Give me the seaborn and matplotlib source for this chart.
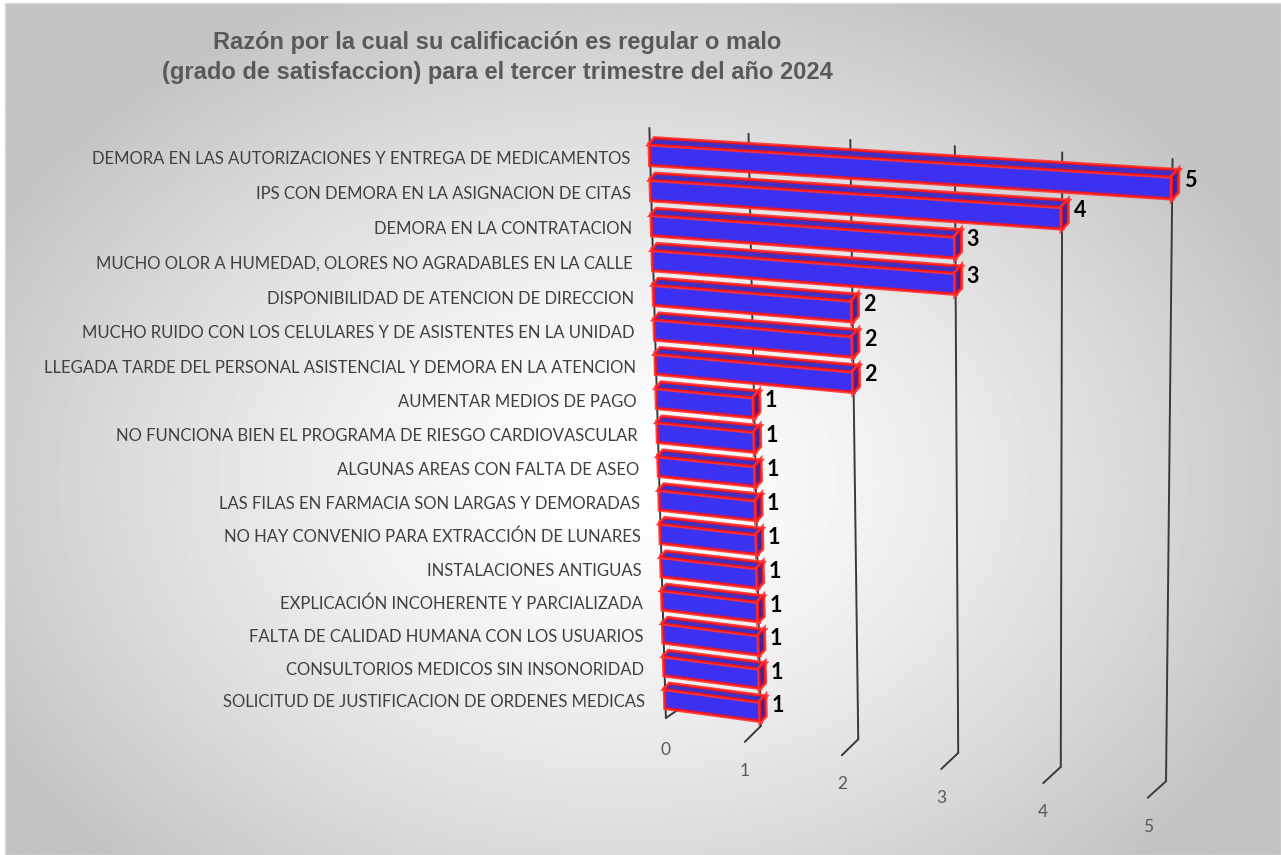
import numpy as np
import pandas as pd
import matplotlib
matplotlib.use("Agg")
import matplotlib.pyplot as plt
import matplotlib.patheffects as pe
from matplotlib.transforms import Transform, Affine2D
from matplotlib.patches import Polygon, Rectangle
import seaborn as sns

# ---------------------------------------------------------------- data
categories = [
    "DEMORA EN LAS AUTORIZACIONES Y ENTREGA DE MEDICAMENTOS",
    "IPS CON DEMORA EN LA ASIGNACION DE CITAS",
    "DEMORA EN LA CONTRATACION",
    "MUCHO OLOR A HUMEDAD, OLORES NO AGRADABLES EN LA CALLE",
    "DISPONIBILIDAD DE ATENCION DE DIRECCION",
    "MUCHO RUIDO CON LOS CELULARES Y DE ASISTENTES EN LA UNIDAD",
    "LLEGADA TARDE DEL PERSONAL ASISTENCIAL Y DEMORA EN LA ATENCION",
    "AUMENTAR MEDIOS DE PAGO",
    "NO FUNCIONA BIEN EL PROGRAMA DE RIESGO CARDIOVASCULAR",
    "ALGUNAS AREAS CON FALTA DE ASEO",
    "LAS FILAS EN FARMACIA SON LARGAS Y DEMORADAS",
    "NO HAY CONVENIO PARA EXTRACCIÓN DE LUNARES",
    "INSTALACIONES ANTIGUAS",
    "EXPLICACIÓN INCOHERENTE Y PARCIALIZADA",
    "FALTA DE CALIDAD HUMANA CON LOS USUARIOS",
    "CONSULTORIOS MEDICOS SIN INSONORIDAD",
    "SOLICITUD DE JUSTIFICACION DE ORDENES MEDICAS",
]
counts = [5, 4, 3, 3, 2, 2, 2, 1, 1, 1, 1, 1, 1, 1, 1, 1, 1]
x_ticks = [0, 1, 2, 3, 4, 5]

title_lines = [
    "Razón por la cual su calificación es regular o malo",
    "(grado de satisfaccion) para el tercer trimestre del año 2024",
]

# ---------------------------------------------------------------- style
sns.set_style("white")
plt.rcParams["font.family"] = ["Lato", "DejaVu Sans"]

W_PX, H_PX, DPI = 1281, 855, 100
fig = plt.figure(figsize=(W_PX / DPI, H_PX / DPI), dpi=DPI, facecolor="white")

# radial grey-to-white chart area background
bg = fig.add_axes([5 / W_PX, 0, 1 - 5 / W_PX, 1 - 3 / H_PX], zorder=-10)
yy, xx = np.mgrid[0:H_PX, 0:W_PX]
r = np.sqrt(((xx - 620) / 720.0) ** 2 + ((yy - 480) / 540.0) ** 2)
shade = 1.0 - 0.235 * np.clip(r, 0, 1) ** 1.4
bg.imshow(shade, cmap="gray", vmin=0, vmax=1, aspect="auto",
          interpolation="bilinear")
bg.set_axis_off()
fig.patches.append(Rectangle((5 / W_PX, 0), 1 - 5 / W_PX, 1 - 3 / H_PX,
                             transform=fig.transFigure, fill=False,
                             edgecolor="#d9d9d9", linewidth=1.0, zorder=-5))

# ---------------------------------------------------------------- bars
ax = fig.add_axes([0.5, 0.15, 0.42, 0.7])
df = pd.DataFrame({"motivo": categories, "cantidad": counts})
sns.barplot(data=df, x="cantidad", y="motivo", orient="h", color="#3b30f2",
            saturation=1, width=0.58, edgecolor="#ff1010", linewidth=1.3,
            ax=ax)
ax.set_xlim(0, 5)
ax.set_ylim(len(categories) - 0.3, -0.7)
ax.set_axis_off()
ax.patch.set_alpha(0)


# perspective projection of the flat axes onto the tilted 3-D wall
class Homography(Transform):
    input_dims = output_dims = 2
    is_affine = False

    def __init__(self, m):
        super().__init__()
        self.m = np.asarray(m, float)

    def transform_non_affine(self, values):
        v = np.asarray(values, float).reshape(-1, 2)
        h = np.c_[v, np.ones(len(v))] @ self.m.T
        return h[:, :2] / h[:, 2:3]

    def inverted(self):
        return Homography(np.linalg.inv(self.m))


def _normalizer(p):
    c = p.mean(axis=0)
    s = np.sqrt(2) / np.mean(np.linalg.norm(p - c, axis=1))
    return np.array([[s, 0, -s * c[0]], [0, s, -s * c[1]], [0, 0, 1]])


def fit_homography(src, dst):
    src, dst = np.asarray(src, float), np.asarray(dst, float)
    ts, td = _normalizer(src), _normalizer(dst)
    s = (np.c_[src, np.ones(len(src))] @ ts.T)[:, :2]
    d = (np.c_[dst, np.ones(len(dst))] @ td.T)[:, :2]
    rows = []
    for (x, y), (X, Y) in zip(s, d):
        rows.append([x, y, 1, 0, 0, 0, -X * x, -X * y, -X])
        rows.append([0, 0, 0, x, y, 1, -Y * x, -Y * y, -Y])
    _, _, vt = np.linalg.svd(np.asarray(rows))
    hn = vt[-1].reshape(3, 3)
    hm = np.linalg.inv(td) @ hn @ ts
    return hm / hm[2, 2]


# value/row positions on the wall and where they appear on the page (px from top-left)
wall_uv = np.array([(0, 0), (0, 1), (5, 0), (4, 1), (2, 4),
                    (0, 7), (1, 7), (0, 16), (1, 16)], float)
page_xy = np.array([(650, 154), (651, 190), (1172, 187), (1062, 217), (851, 312),
                    (657, 398), (757, 408), (663, 697), (762, 712)], float)
flat = ax.transData.transform(wall_uv)
target = np.c_[page_xy[:, 0], H_PX - page_xy[:, 1]]
persp = ax.transData + Homography(fit_homography(flat, target))


def shifted(dx, dy):
    return persp + Affine2D().translate(dx, dy)


# back wall gridlines with their floor ticks
grid_kw = dict(color="#3a3a3a", linewidth=1.4, solid_capstyle="round",
               clip_on=False, zorder=1)
v_top, v_bot = -0.75, len(categories) - 0.55
for k in x_ticks:
    if k == 0:
        ax.plot([0, 0], [v_top, v_bot + 0.15], transform=persp, **grid_kw)
        ax.plot([0, 0.13], [v_bot + 0.15, v_bot - 0.15], transform=persp,
                **grid_kw)
        foot = (0, v_bot + 0.15)
        lift = -32
    else:
        ax.plot([k, k], [v_top, v_bot], transform=persp, **grid_kw)
        foot = (k - 0.17, v_bot + 0.55)
        ax.plot([k, foot[0]], [v_bot, foot[1]], transform=persp, **grid_kw)
        lift = -29
    ax.text(foot[0], foot[1], str(k), transform=shifted(0, lift),
            ha="center", va="center", fontsize=12.5, color="#595959")

# box faces: front from seaborn, plus top and end faces
glow = [pe.Stroke(linewidth=3.4, foreground=(1, 0.2, 0.2, 0.35)), pe.Normal()]
depth_u, depth_v = 0.05, 0.17
for p in list(ax.patches):
    x0, x1 = p.get_x(), p.get_x() + p.get_width()
    top = min(p.get_y(), p.get_y() + p.get_height())
    bot = max(p.get_y(), p.get_y() + p.get_height())
    p.set_transform(persp)
    p.set_clip_on(False)
    p.set_alpha(0.9)
    p.set_zorder(3)
    p.set_path_effects(glow)
    faces = [
        ([(x0, top), (x1, top), (x1 + depth_u, top - depth_v),
          (x0 + depth_u, top - depth_v)], "#3a2fc8"),
        ([(x1, top), (x1, bot), (x1 + depth_u, bot - depth_v),
          (x1 + depth_u, top - depth_v)], "#2c25a8"),
    ]
    for pts, fc in faces:
        ax.add_patch(Polygon(pts, closed=True, facecolor=fc, edgecolor="#ff1010",
                             linewidth=1.1, alpha=0.92, transform=persp,
                             clip_on=False, zorder=3, path_effects=glow))

# category names and value labels
for i, (name, val) in enumerate(zip(categories, counts)):
    ax.text(0, i, name, transform=shifted(-20, -4), ha="right", va="center",
            fontsize=12, color="#404040")
    ax.text(val + depth_u, i - 0.2, str(val), transform=shifted(6, 0),
            ha="left", va="center", fontsize=15.5, fontweight="bold",
            color="black", zorder=5)

# title
for j, line in enumerate(title_lines):
    fig.text(497 / W_PX, 1 - (42 + 31 * j) / H_PX, line, ha="center",
             va="center", fontsize=17, fontweight="bold", color="#595959",
             family=["Liberation Sans", "DejaVu Sans"])

fig.savefig("out.png", dpi=DPI)
